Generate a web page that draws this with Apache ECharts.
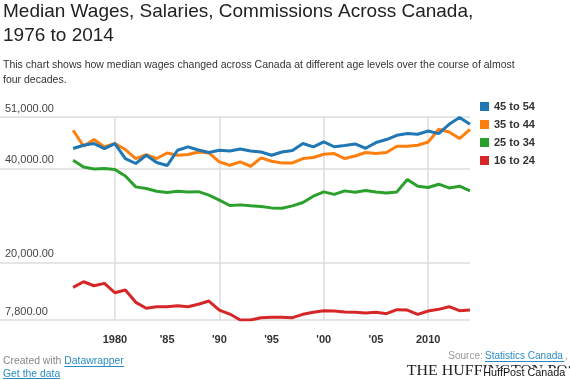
<!DOCTYPE html>
<html><head><meta charset="utf-8">
<script src="https://cdn.jsdelivr.net/npm/echarts@6/dist/echarts.min.js"></script>
<style>html,body{margin:0;padding:0;background:#fff}#c{width:570px;height:380px}</style>
</head><body><div id="c"></div>
<script>
const years = [1976,1977,1978,1979,1980,1981,1982,1983,1984,1985,1986,1987,1988,1989,1990,1991,1992,1993,1994,1995,1996,1997,1998,1999,2000,2001,2002,2003,2004,2005,2006,2007,2008,2009,2010,2011,2012,2013,2014];
const age45to54 = [44290,44990,45350,44290,45350,42160,41100,42860,41310,40670,43920,44630,43990,43440,43920,43780,44200,43780,43560,42860,43560,43860,45350,44630,45690,44670,44920,45260,44350,45560,46200,47110,47470,47320,48030,47470,49450,50870,49450];
const age35to44 = [48170,44770,46200,44630,45350,44070,42160,43010,42160,43350,42860,43010,43560,43350,41440,40740,41440,40520,42290,41590,41230,41230,42160,42370,43070,43220,42160,42710,43440,43220,43440,44770,44770,44990,45690,48390,47810,46410,48390];
const age25to34 = [41800,40380,39950,40040,39820,38460,36130,35790,35210,34940,35210,35060,35110,34360,33300,32170,32300,32090,31960,31660,31600,32090,32810,34150,35060,34530,35280,35000,35360,35060,34850,35060,37700,36270,36000,36700,35910,36270,35280];
const age16to24 = [14750,15940,15090,15600,13600,14170,11560,10290,10630,10630,10840,10630,11140,11840,9920,9070,7800,7800,8290,8370,8370,8290,9010,9440,9780,9710,9500,9440,9290,9440,9140,9990,9920,9010,9710,10070,10630,9780,9920];
const seriesNames = ['45 to 54','35 to 44','25 to 34','16 to 24'];
const seriesColors = ['#1f77b4','#ff7f0e','#2ca02c','#d62728'];
const yTickValues = [7800, 20000, 40000, 51000];
const yTickLabels = ['7,800.00','20,000.00','40,000.00','51,000.00'];
const xLabelValues = [1980,1985,1990,1995,2000,2005,2010];
const xLabelTexts = ['1980',"'85","'90","'95","'00","'05",'2010'];
const xGridValues = [1980,1990,2000,2010];

const allValues = [age45to54, age35to44, age25to34, age16to24];
const FONT = '"Liberation Sans", Arial, sans-serif';
const LINK = '#2b8cc4';

const chart = echarts.init(document.getElementById('c'), null, {renderer:'canvas'});
const series = [3,2,1,0].map(i => ({
  name: seriesNames[i],
  type: 'line',
  data: years.map((y, k) => [y, allValues[i][k]]),
  symbol: 'none',
  lineStyle: { width: 3, color: seriesColors[i] },
  itemStyle: { color: seriesColors[i] },
  emphasis: { disabled: true },
  z: 3
}));

chart.setOption({
  animation: false,
  backgroundColor: '#fff',
  textStyle: { fontFamily: FONT },
  grid: { left: 0, right: 100, top: 117, bottom: 60, containLabel: false },
  xAxis: {
    type: 'value', min: 1969, max: 2014,
    axisLine: { show: false },
    axisTick: { show: false, customValues: xGridValues },
    splitLine: { show: true, lineStyle: { color: '#dcdcdc', width: 1.5 } },
    axisLabel: {
      customValues: xLabelValues,
      formatter: v => xLabelTexts[xLabelValues.indexOf(v)],
      fontFamily: FONT, fontSize: 11, fontWeight: 'bold', color: '#333', margin: 14
    }
  },
  yAxis: {
    type: 'value', min: 7800, max: 51000,
    axisLine: { show: false },
    axisTick: { show: false, customValues: yTickValues },
    splitLine: { show: true, lineStyle: { color: '#dcdcdc', width: 1.5 } },
    axisLabel: {
      customValues: yTickValues,
      formatter: v => yTickLabels[yTickValues.indexOf(v)],
      inside: true, margin: 5, align: 'left', verticalAlign: 'bottom',
      padding: [0,0,3,0],
      fontFamily: FONT, fontSize: 11, color: '#444'
    }
  },
  legend: {
    data: seriesNames, orient: 'vertical', left: 480, top: 101, padding: 0,
    icon: 'rect', itemWidth: 9, itemHeight: 9, itemGap: 7,
    textStyle: { fontFamily: FONT, fontSize: 11, fontWeight: 'bold', color: '#333' },
    selectedMode: false
  },
  series: series,
  graphic: [
    { type:'text', style:{ x:3, y:12, text:'Median Wages, Salaries, Commissions Across Canada,', font:'19px ' + FONT, fill:'#222', verticalAlign:'middle' } },
    { type:'text', style:{ x:3, y:36, text:'1976 to 2014', font:'19px ' + FONT, fill:'#222', verticalAlign:'middle' } },
    { type:'text', style:{ x:3, y:64.7, text:'This chart shows how median wages changed across Canada at different age levels over the course of almost', font:'10.5px ' + FONT, fill:'#333', verticalAlign:'middle' } },
    { type:'text', style:{ x:3, y:80.3, text:'four decades.', font:'10.5px ' + FONT, fill:'#333', verticalAlign:'middle' } },
    { type:'text', style:{ x:3, y:361.2, text:'Created with', font:'10.4px ' + FONT, fill:'#888', verticalAlign:'middle' } },
    { type:'text', style:{ x:64.3, y:361.2, text:'Datawrapper', font:'10.4px ' + FONT, fill:LINK, verticalAlign:'middle' } },
    { type:'line', shape:{ x1:64.3, y1:366.5, x2:124, y2:366.5 }, style:{ stroke:LINK, lineWidth:1 } },
    { type:'text', style:{ x:3, y:373.7, text:'Get the data', font:'10.4px ' + FONT, fill:LINK, verticalAlign:'middle' } },
    { type:'line', shape:{ x1:3, y1:378.5, x2:60, y2:378.5 }, style:{ stroke:LINK, lineWidth:1 } },
    { type:'text', style:{ x:448.3, y:355.8, text:'Source:', font:'10px ' + FONT, fill:'#999', verticalAlign:'middle' } },
    { type:'text', style:{ x:485, y:355.8, text:'Statistics Canada', font:'10px ' + FONT, fill:LINK, verticalAlign:'middle' } },
    { type:'line', shape:{ x1:485, y1:361.5, x2:564.5, y2:361.5 }, style:{ stroke:LINK, lineWidth:1 } },
    { type:'text', style:{ x:564.8, y:355.8, text:',', font:'10px ' + FONT, fill:'#999', verticalAlign:'middle' } },
    { type:'text', x:406.7, y:371.3, scaleX:1.14, style:{ x:0, y:0, text:'THE HUFFINGTON POST', font:'14px "Liberation Serif", "Times New Roman", serif', fill:'#222', verticalAlign:'middle' } },
    { type:'rect', shape:{ x:481, y:368.3, width:89, height:12 }, style:{ fill:'#fff' } },
    { type:'text', style:{ x:483.3, y:372.8, text:'HuffPost Canada', font:'10.8px ' + FONT, fill:'#111', verticalAlign:'middle' } }
  ]
});
</script></body></html>
